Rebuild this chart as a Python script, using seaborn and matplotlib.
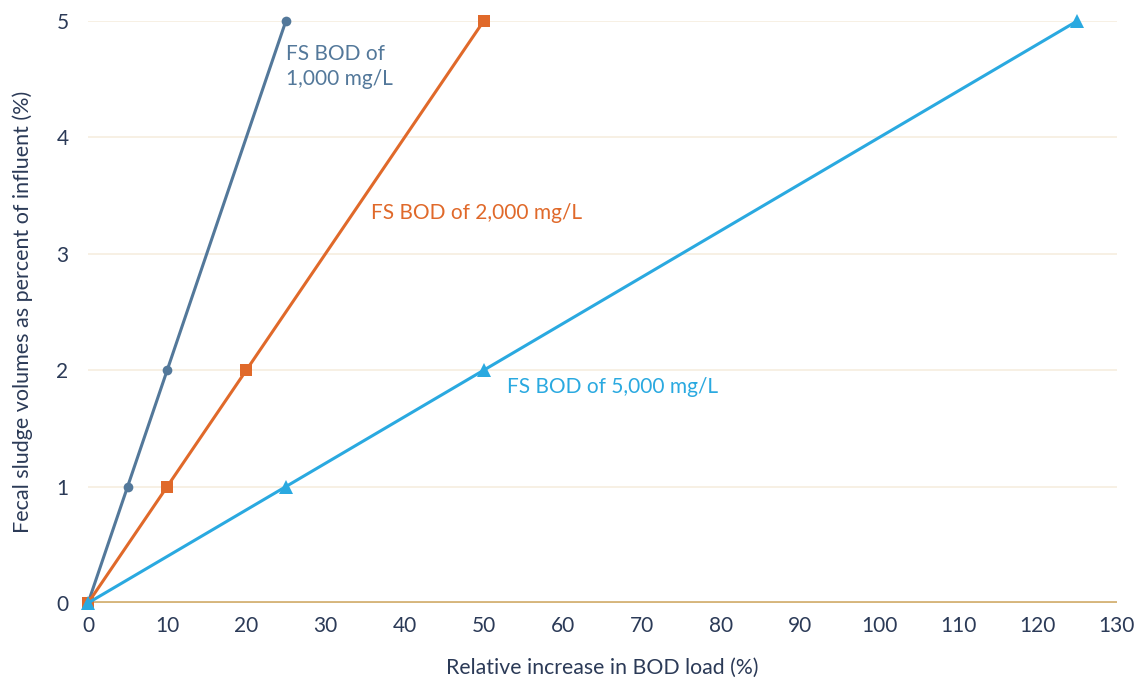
import matplotlib
matplotlib.use("Agg")
import matplotlib.pyplot as plt
import seaborn as sns
import pandas as pd

# Data
fs_y = [0, 1, 2, 5]
x_1000 = [0, 5, 10, 25]
x_2000 = [0, 10, 20, 50]
x_5000 = [0, 25, 50, 125]
series_labels = ["FS BOD of\n1,000 mg/L", "FS BOD of 2,000 mg/L", "FS BOD of 5,000 mg/L"]
x_ticks = list(range(0, 131, 10))
y_ticks = [0, 1, 2, 3, 4, 5]

sns.set_theme(style="white")
plt.rcParams['font.family'] = ['Lato', 'DejaVu Sans']

text_col = "#2b3a57"
colors = ["#53789a", "#e0692a", "#2aa9e0"]
markers = ["o", "s", "^"]
msizes = [7, 8, 10]

fig = plt.figure(figsize=(11.36, 6.85), dpi=100)
ax = fig.add_axes([0.0775, 0.1197, 0.9055, 0.8496])

for xs, c, m, ms in zip([x_1000, x_2000, x_5000], colors, markers, msizes):
    df = pd.DataFrame({"x": xs, "y": fs_y})
    sns.lineplot(data=df, x="x", y="y", ax=ax, color=c, linewidth=2.2,
                 marker=m, markersize=ms, markeredgewidth=0, clip_on=False, zorder=4)

ax.axhline(0, color="#d6b67c", linewidth=2.8, zorder=3)

ax.set_xlim(0, 130)
ax.set_ylim(0, 5)
ax.set_xticks(x_ticks)
ax.set_yticks(y_ticks)
ax.grid(axis="y", color="#f6eedf", linewidth=1.2)
ax.grid(axis="x", visible=False)
for s in ax.spines.values():
    s.set_visible(False)
ax.tick_params(axis="both", length=0, labelsize=15, colors=text_col)
ax.tick_params(axis="x", pad=9)
ax.tick_params(axis="y", pad=14)

ax.set_xlabel("Relative increase in BOD load (%)", fontsize=15.3, color=text_col, labelpad=16)
ax.set_ylabel("Fecal sludge volumes as percent of influent (%)", fontsize=15.5, color=text_col, labelpad=17)

ax.text(25, 4.80, series_labels[0], color=colors[0], fontsize=15, ha="left", va="top", linespacing=1.3)
ax.text(35.8, 3.35, series_labels[1], color=colors[1], fontsize=15, ha="left", va="center")
ax.text(53.0, 1.86, series_labels[2], color=colors[2], fontsize=15, ha="left", va="center")

fig.savefig("out.png", dpi=100)
